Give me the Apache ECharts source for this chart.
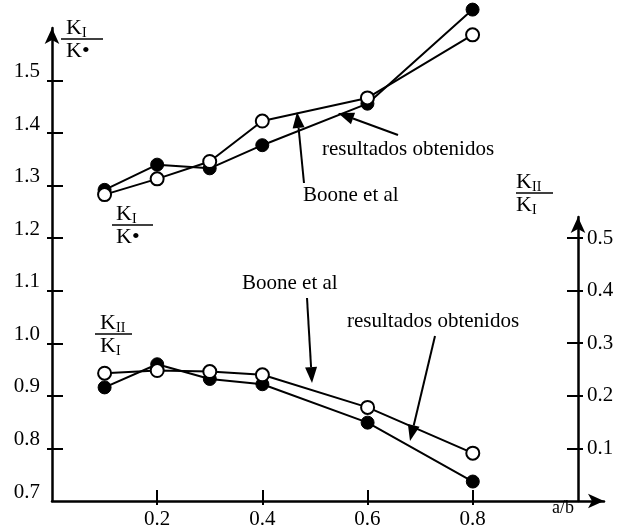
<!DOCTYPE html>
<html>
<head>
<meta charset="utf-8">
<script src="https://cdn.jsdelivr.net/npm/echarts@6/dist/echarts.min.js"></script>
<style>
html,body{margin:0;padding:0;background:#fff;}
#chart{width:620px;height:531px;}
</style>
</head>
<body>
<div id="chart"></div>
<script>
// ---- data ----
const aOverB = [0.1, 0.2, 0.3, 0.4, 0.6, 0.8];
const kiResultados = [1.292, 1.340, 1.333, 1.377, 1.456, 1.635];
const kiBoone = [1.283, 1.313, 1.346, 1.423, 1.467, 1.587];
const kiiResultados = [0.216, 0.260, 0.232, 0.222, 0.149, 0.037];
const kiiBoone = [0.243, 0.248, 0.246, 0.240, 0.178, 0.091];
const leftLabels = [0.7, 0.8, 0.9, 1.0, 1.1, 1.2, 1.3, 1.4, 1.5];
const leftTicks = [0.8, 0.9, 1.0, 1.1, 1.2, 1.3, 1.4, 1.5];
const rightTicks = [0.1, 0.2, 0.3, 0.4, 0.5];
const xTicks = [0.2, 0.4, 0.6, 0.8];

const FONT = '"Liberation Serif", "Times New Roman", serif';
const pairs = (xs, ys) => xs.map((x, i) => [x, ys[i]]);

const chart = echarts.init(document.getElementById('chart'), null, {renderer: 'canvas'});

const lineStyle = {color: '#000', width: 2};
const filled = {color: '#000', borderColor: '#000', borderWidth: 1};
const open = {color: '#fff', borderColor: '#000', borderWidth: 2};

function arrow(x1, y1, x2, y2) {
  const dx = x2 - x1, dy = y2 - y1, L = Math.hypot(dx, dy);
  const ux = dx / L, uy = dy / L, px = -uy, py = ux;
  const hl = 16, hw = 6;
  const bx = x2 - ux * hl, by = y2 - uy * hl;
  return [
    {type: 'line', shape: {x1, y1, x2: bx, y2: by}, style: {stroke: '#000', lineWidth: 2}},
    {type: 'polygon', shape: {points: [[x2, y2], [bx + px * hw, by + py * hw], [bx - px * hw, by - py * hw]]}, style: {fill: '#000'}}
  ];
}
function txt(x, y, s, size, align) {
  return {type: 'text', style: {x, y, text: s, font: size + 'px ' + FONT, fill: '#000', align: align || 'left', verticalAlign: 'middle'}};
}
function frac(x, lineY, x1, x2, numSub, denSub, denDot) {
  const els = [];
  els.push(txt(x, lineY - 11, 'K', 22));
  els.push(txt(x + 16, lineY - 6, numSub, 14));
  els.push({type: 'line', shape: {x1, y1: lineY, x2, y2: lineY}, style: {stroke: '#000', lineWidth: 1.5}});
  els.push(txt(x, lineY + 12, denDot ? 'K\u2022' : 'K', 22));
  if (denSub) els.push(txt(x + 16, lineY + 17, denSub, 14));
  return els;
}

const graphics = [].concat(
  frac(66, 39, 61, 103, 'I', '', true),
  frac(116, 225, 112, 153, 'I', '', true),
  frac(100, 334, 95, 132, 'II', 'I', false),
  frac(516, 193, 516, 553, 'II', 'I', false),
  [txt(322, 149, 'resultados obtenidos', 21),
   txt(303, 195, 'Boone et al', 21),
   txt(242, 283, 'Boone et al', 21),
   txt(347, 321, 'resultados obtenidos', 21),
   txt(552, 508, 'a/b', 18)],
  arrow(304, 183, 297, 112),
  arrow(398, 135, 338, 113),
  arrow(307, 298, 312, 383),
  arrow(435, 336, 410, 441)
);

const axisLineBase = {show: true, onZero: false, lineStyle: {color: '#000', width: 2.5}, symbol: ['none', 'arrow'], symbolSize: [11, 16]};
const noLine = {show: false, onZero: false};
const labelBase = {color: '#000', fontFamily: FONT, fontSize: 21};
const tickLine = {color: '#000', width: 2};

const gMain = {left: 52, right: 16, top: 28, bottom: 30};
const gRight = {left: 52, right: 42, top: 217, bottom: 30};

const option = {
  animation: false,
  backgroundColor: '#fff',
  grid: [gMain, gRight, Object.assign({}, gMain), Object.assign({}, gRight)],
  xAxis: [
    {type: 'value', gridIndex: 0, min: 0, max: 1.05, axisLine: axisLineBase,
     axisTick: {show: true, inside: true, length: 11, customValues: xTicks, lineStyle: tickLine},
     axisLabel: Object.assign({}, labelBase, {customValues: xTicks, margin: 8, formatter: v => v.toFixed(1)}),
     splitLine: {show: false}},
    {type: 'value', gridIndex: 1, min: 0, max: 1, show: false, axisLine: noLine, splitLine: {show: false}},
    {type: 'value', gridIndex: 2, min: 0, max: 1.05, position: 'bottom', axisLine: noLine,
     axisTick: {show: true, inside: false, length: 4, customValues: xTicks, lineStyle: tickLine},
     axisLabel: {show: false}, splitLine: {show: false}},
    {type: 'value', gridIndex: 3, min: 0, max: 1, show: false, axisLine: noLine, splitLine: {show: false}}
  ],
  yAxis: [
    {type: 'value', gridIndex: 0, min: 0.7, max: 1.6, position: 'left', axisLine: axisLineBase,
     axisTick: {show: true, inside: true, length: 11, customValues: leftTicks, lineStyle: tickLine},
     axisLabel: Object.assign({}, labelBase, {customValues: leftLabels, margin: 12, verticalAlign: 'bottom', lineHeight: 18, formatter: v => v.toFixed(1)}),
     splitLine: {show: false}},
    {type: 'value', gridIndex: 1, min: 0, max: 0.54, position: 'right', axisLine: axisLineBase,
     axisTick: {show: true, inside: true, length: 11, customValues: rightTicks, lineStyle: tickLine},
     axisLabel: Object.assign({}, labelBase, {customValues: rightTicks, margin: 9, formatter: v => v.toFixed(1)}),
     splitLine: {show: false}},
    {type: 'value', gridIndex: 2, min: 0.7, max: 1.6, position: 'left', axisLine: noLine,
     axisTick: {show: true, inside: false, length: 5, customValues: leftTicks, lineStyle: tickLine},
     axisLabel: {show: false}, splitLine: {show: false}},
    {type: 'value', gridIndex: 3, min: 0, max: 0.54, position: 'right', axisLine: noLine,
     axisTick: {show: true, inside: false, length: 5, customValues: rightTicks, lineStyle: tickLine},
     axisLabel: {show: false}, splitLine: {show: false}}
  ],
  series: [
    {name: 'KI resultados obtenidos', type: 'line', xAxisIndex: 0, yAxisIndex: 0, data: pairs(aOverB, kiResultados),
     symbol: 'circle', symbolSize: 13, lineStyle, itemStyle: filled, clip: false, z: 3},
    {name: 'KI Boone et al', type: 'line', xAxisIndex: 0, yAxisIndex: 0, data: pairs(aOverB, kiBoone),
     symbol: 'circle', symbolSize: 13, lineStyle, itemStyle: open, clip: false, z: 4},
    {name: 'KII resultados obtenidos', type: 'line', xAxisIndex: 1, yAxisIndex: 1, data: pairs(aOverB, kiiResultados),
     symbol: 'circle', symbolSize: 13, lineStyle, itemStyle: filled, clip: false, z: 3},
    {name: 'KII Boone et al', type: 'line', xAxisIndex: 1, yAxisIndex: 1, data: pairs(aOverB, kiiBoone),
     symbol: 'circle', symbolSize: 13, lineStyle, itemStyle: open, clip: false, z: 4}
  ],
  graphic: graphics
};
chart.setOption(option);
</script>
</body>
</html>
